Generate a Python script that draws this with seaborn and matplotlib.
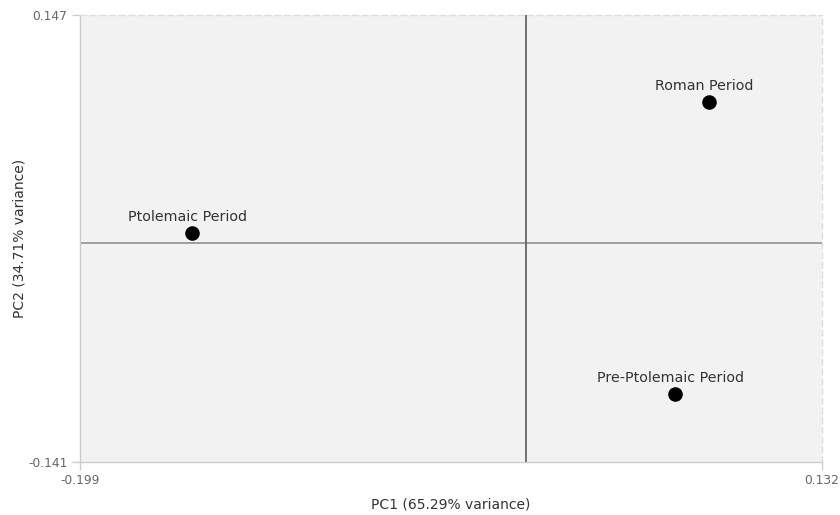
import matplotlib
matplotlib.use("Agg")
import matplotlib.pyplot as plt
import seaborn as sns
import pandas as pd

periods = ["Ptolemaic Period", "Roman Period", "Pre-Ptolemaic Period"]
pc1 = [-0.149, 0.0816, 0.0664]
pc2 = [0.0065, 0.091, -0.0972]
x_range = [-0.199, 0.132]
y_range = [-0.141, 0.147]
x_label = "PC1 (65.29% variance)"
y_label = "PC2 (34.71% variance)"

df = pd.DataFrame({"period": periods, "PC1": pc1, "PC2": pc2})

sns.set_theme(style="white")
plt.rcParams["font.family"] = ["DejaVu Sans"]

fig = plt.figure(figsize=(8.4, 5.15), dpi=100)
ax = fig.add_axes([80 / 840, 53 / 515, 742 / 840, 447 / 515])
ax.set_facecolor("#f2f2f2")

ax.axhline(0, color="#999999", lw=1.3, zorder=1)
ax.axvline(0, color="#666666", lw=1.3, zorder=1)

sns.scatterplot(data=df, x="PC1", y="PC2", ax=ax, color="black", s=110,
                edgecolor="black", linewidth=0, zorder=3, legend=False)

for name, x, y in zip(df["period"], df["PC1"], df["PC2"]):
    ax.annotate(name, (x, y), xytext=(-3.5, 6.5), textcoords="offset points",
                ha="center", va="bottom", fontsize=10.3, color="#333333")

ax.set_xlim(*x_range)
ax.set_ylim(*y_range)
ax.set_xticks(x_range)
ax.set_yticks(y_range)
ax.set_xticklabels([f"{v:.3f}" for v in x_range])
ax.set_yticklabels([f"{v:.3f}" for v in y_range])
ax.tick_params(axis="both", which="both", length=6, width=1, color="#cccccc",
               labelsize=8.8, labelcolor="#666666", pad=3,
               bottom=True, left=True)
ax.set_xlabel(x_label, fontsize=10, color="#333333", labelpad=7)
ax.set_ylabel(y_label, fontsize=10, color="#333333", labelpad=1.5)

for side in ["left", "bottom"]:
    ax.spines[side].set_color("#cccccc")
    ax.spines[side].set_linewidth(1)
for side in ["top", "right"]:
    ax.spines[side].set_color("#dddddd")
    ax.spines[side].set_linewidth(1)
    ax.spines[side].set_linestyle((0, (4, 3)))

fig.savefig("out.png", dpi=100)
